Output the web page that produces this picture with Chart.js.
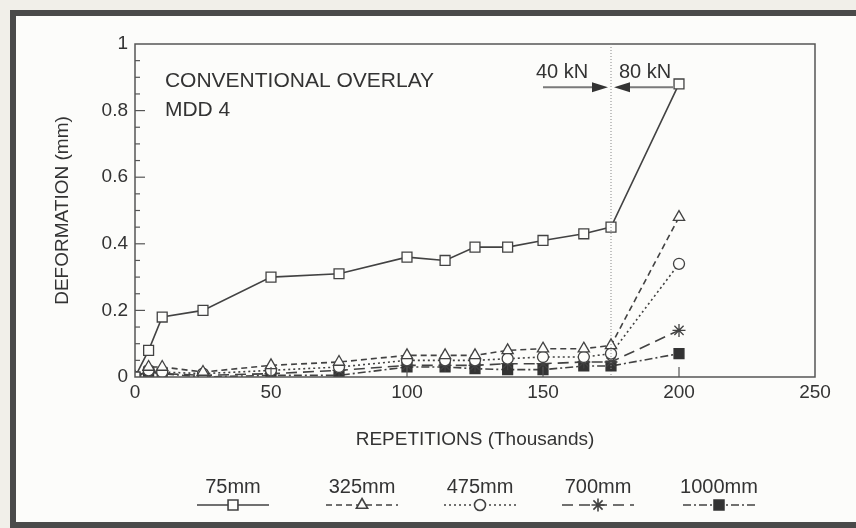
<!DOCTYPE html>
<html>
<head>
<meta charset="utf-8">
<script src="https://cdn.jsdelivr.net/npm/chart.js@4.4.0/dist/chart.umd.min.js"></script>
<style>
  html, body { margin: 0; padding: 0; background: #f1efe9; }
  #wrap { width: 856px; height: 528px; }
</style>
</head>
<body>
<div id="wrap"><canvas id="c" width="856" height="528"></canvas></div>
<script>
// repetitions (thousands) - shared x values for every depth
const reps = [0, 5, 10, 25, 50, 75, 100, 114, 125, 137, 150, 165, 175, 200];

// deformation (mm) per depth
const d75   = [0, 0.08, 0.18, 0.20, 0.30, 0.31, 0.36, 0.35, 0.39, 0.39, 0.41, 0.43, 0.45, 0.88];
const d325  = [0, 0.03, 0.03, 0.015, 0.035, 0.045, 0.065, 0.065, 0.065, 0.08, 0.085, 0.085, 0.095, 0.48];
const d475  = [0, 0.02, 0.015, 0.01, 0.02, 0.03, 0.05, 0.05, 0.05, 0.055, 0.06, 0.06, 0.07, 0.34];
const d700  = [0, 0.02, 0.01, 0.005, 0.01, 0.02, 0.035, 0.035, 0.035, 0.04, 0.04, 0.045, 0.045, 0.14];
const d1000 = [0, 0.015, 0.01, 0, 0.005, 0.005, 0.03, 0.03, 0.025, 0.022, 0.022, 0.033, 0.033, 0.07];

const seriesLabels = ['75mm', '325mm', '475mm', '700mm', '1000mm'];
const xTicks = [0, 50, 100, 150, 200, 250];
const yTicks = [0, 0.2, 0.4, 0.6, 0.8, 1];

const loadChange = 175;   // 40 kN -> 80 kN
const noteLines = ['CONVENTIONAL OVERLAY', 'MDD 4'];

const INK = '#424242';
const TEXT = '#333';
const FONT = '"Liberation Sans", Arial, Helvetica, sans-serif';

Chart.defaults.font.family = FONT;
Chart.defaults.font.size = 19;
Chart.defaults.color = TEXT;

function pts(arr) {
  return reps.map((r, i) => ({ x: r, y: arr[i] }));
}

const base = {
  borderColor: INK,
  borderWidth: 1.6,
  pointBorderColor: INK,
  pointBorderWidth: 1.3,
  pointBackgroundColor: '#fdfdfb',
  tension: 0,
  fill: false
};

const datasets = [
  Object.assign({}, base, { label: seriesLabels[0], data: pts(d75), pointStyle: 'rect', pointRadius: 7 }),
  Object.assign({}, base, { label: seriesLabels[1], data: pts(d325), pointStyle: 'triangle', pointRadius: 6.5, borderDash: [6, 4] }),
  Object.assign({}, base, { label: seriesLabels[2], data: pts(d475), pointStyle: 'circle', pointRadius: 5.5, borderDash: [2, 3] }),
  Object.assign({}, base, { label: seriesLabels[3], data: pts(d700), pointStyle: 'star', pointRadius: 6.5, borderDash: [11, 6] }),
  Object.assign({}, base, { label: seriesLabels[4], data: pts(d1000), pointStyle: 'rect', pointRadius: 7,
    pointBackgroundColor: '#333', pointBorderColor: '#333', borderDash: [8, 3, 2, 3] })
];

// page frame + plot box + inward ticks + notes + legend
const decor = {
  id: 'decor',
  beforeDraw(chart) {
    const ctx = chart.ctx;
    ctx.save();
    ctx.fillStyle = '#f1efe9';
    ctx.fillRect(0, 0, chart.width, chart.height);
    ctx.fillStyle = '#fcfcfa';
    ctx.fillRect(14, 14, chart.width, chart.height - 14);
    ctx.strokeStyle = '#4a4a4a';
    ctx.lineWidth = 6;
    ctx.strokeRect(13, 13, chart.width + 20, chart.height - 16);
    ctx.restore();
  },
  afterDatasetsDraw(chart) {
    const ctx = chart.ctx;
    const a = chart.chartArea;
    const xs = chart.scales.x, ys = chart.scales.y;
    ctx.save();

    // plot box
    ctx.strokeStyle = '#555';
    ctx.lineWidth = 1.5;
    ctx.strokeRect(a.left, a.top, a.right - a.left, a.bottom - a.top);

    // y ticks inward
    ctx.lineWidth = 1.2;
    for (let k = 1; k < 20; k++) {
      const y = ys.getPixelForValue(k * 0.05);
      const len = (k % 4 === 0) ? 10 : 5;
      ctx.beginPath();
      ctx.moveTo(a.left, y);
      ctx.lineTo(a.left + len, y);
      ctx.stroke();
    }
    // x ticks inward
    xTicks.slice(1, -1).forEach(v => {
      const x = xs.getPixelForValue(v);
      ctx.beginPath();
      ctx.moveTo(x, a.bottom);
      ctx.lineTo(x, a.bottom - 10);
      ctx.stroke();
    });

    // load change line
    const xl = xs.getPixelForValue(loadChange);
    ctx.strokeStyle = '#888';
    ctx.lineWidth = 1;
    ctx.setLineDash([1, 2]);
    ctx.beginPath();
    ctx.moveTo(xl, a.top);
    ctx.lineTo(xl, a.bottom);
    ctx.stroke();
    ctx.setLineDash([]);

    // arrows
    const ya = ys.getPixelForValue(0.87);
    const xa = xs.getPixelForValue(150), xb = xs.getPixelForValue(200);
    ctx.strokeStyle = '#7a7a7a';
    ctx.lineWidth = 2;
    ctx.beginPath();
    ctx.moveTo(xa, ya); ctx.lineTo(xl - 16, ya);
    ctx.moveTo(xl + 16, ya); ctx.lineTo(xb - 6, ya);
    ctx.stroke();
    ctx.fillStyle = '#333';
    ctx.beginPath();
    ctx.moveTo(xl - 3, ya); ctx.lineTo(xl - 19, ya - 5); ctx.lineTo(xl - 19, ya + 5); ctx.closePath();
    ctx.moveTo(xl + 3, ya); ctx.lineTo(xl + 19, ya - 5); ctx.lineTo(xl + 19, ya + 5); ctx.closePath();
    ctx.fill();

    ctx.fillStyle = TEXT;
    ctx.font = '20px ' + FONT;
    ctx.textBaseline = 'middle';
    ctx.textAlign = 'center';
    const yt = ys.getPixelForValue(0.915);
    ctx.fillText('40 kN', xs.getPixelForValue(157), yt);
    ctx.fillText('80 kN', xs.getPixelForValue(187.5), yt);

    // notes
    ctx.font = '21px ' + FONT;
    ctx.textAlign = 'left';
    ctx.fillText(noteLines[0], xs.getPixelForValue(11), ys.getPixelForValue(0.887));
    ctx.fillText(noteLines[1], xs.getPixelForValue(11), ys.getPixelForValue(0.8));

    // legend: label above, line sample below
    ctx.font = '20px ' + FONT;
    const legendX = [233, 362, 480, 598, 719];
    chart.data.datasets.forEach((ds, i) => {
      const cx = legendX[i];
      ctx.fillStyle = TEXT;
      ctx.textAlign = 'center';
      ctx.fillText(ds.label, cx, 487);
      ctx.strokeStyle = INK;
      ctx.lineWidth = 1.6;
      ctx.setLineDash(ds.borderDash || []);
      ctx.beginPath();
      ctx.moveTo(cx - 36, 505);
      ctx.lineTo(cx + 36, 505);
      ctx.stroke();
      ctx.setLineDash([]);
      ctx.fillStyle = ds.pointBackgroundColor;
      ctx.strokeStyle = ds.pointBorderColor;
      Chart.helpers.drawPoint(ctx, {
        pointStyle: ds.pointStyle, radius: ds.pointRadius, rotation: 0, borderWidth: ds.pointBorderWidth
      }, cx, 505);
    });
    ctx.restore();
  }
};

new Chart(document.getElementById('c'), {
  type: 'line',
  data: { datasets: datasets },
  options: {
    responsive: false,
    animation: false,
    layout: { padding: { top: 44, right: 41, left: 40, bottom: 76 } },
    plugins: { legend: { display: false }, tooltip: { enabled: false } },
    scales: {
      x: {
        type: 'linear', min: 0, max: 250,
        afterFit(s) { s.height = 75; },
        afterBuildTicks(s) { s.ticks = xTicks.map(v => ({ value: v })); },
        grid: { display: false, drawTicks: false },
        border: { display: false },
        ticks: { padding: 4, color: TEXT },
        title: { display: true, text: 'REPETITIONS (Thousands)', padding: { top: 0, bottom: 1 }, color: TEXT }
      },
      y: {
        type: 'linear', min: 0, max: 1,
        afterFit(s) { s.width = 95; },
        afterBuildTicks(s) { s.ticks = yTicks.map(v => ({ value: v })); },
        grid: { display: false, drawTicks: false },
        border: { display: false },
        ticks: { padding: 7, color: TEXT, callback: v => String(+v.toFixed(1)) },
        title: { display: true, text: 'DEFORMATION (mm)', padding: { top: 11, bottom: 0 }, color: TEXT }
      }
    }
  },
  plugins: [decor]
});
</script>
</body>
</html>
